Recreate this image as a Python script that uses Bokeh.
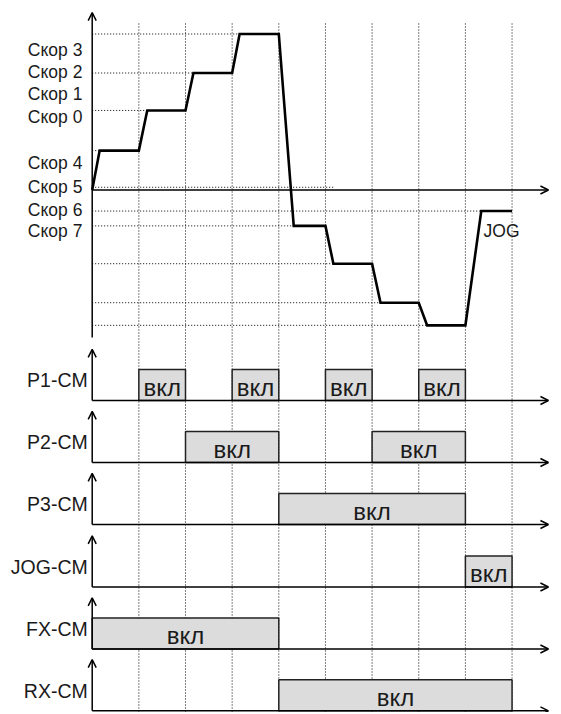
from bokeh.plotting import figure
from bokeh.models import Range1d, Arrow, OpenHead
from bokeh.core.properties import value
from bokeh.embed import file_html
from bokeh.resources import INLINE

# ---------------- data ----------------
t_knots = [0, 0.16, 1, 1.18, 2, 2.17, 3, 3.16, 4, 4.32, 5, 5.17, 6, 6.18, 7, 7.18, 8, 8.34, 9]
speed = [0, 1.01, 1.01, 2.04, 2.04, 3.0, 3.0, 4.0, 4.0, -0.92, -0.92, -1.89, -1.89,
         -2.89, -2.89, -3.47, -3.47, -0.54, -0.54]

level_values = [1.01, 2.04, 3.0, 4.0, 0.07, -0.54, -0.92, -1.89, -2.89, -3.47]
level_ends = [1, 2, 3, 4, 5.17, 9, 5, 6, 7, 8]

speed_labels = ["Скор 3", "Скор 2", "Скор 1", "Скор 0", "Скор 4", "Скор 5", "Скор 6", "Скор 7"]
speed_label_pos = [3.59, 3.02, 2.45, 1.87, 0.69, 0.07, -0.50, -1.04]

grid_times = [1, 2, 3, 4, 5, 6, 7, 8, 9]

signal_names = ["P1-CM", "P2-CM", "P3-CM", "JOG-CM", "FX-CM", "RX-CM"]
on_starts = [[1, 3, 5, 7], [2, 6], [4], [8], [0], [4]]
on_ends = [[2, 4, 6, 8], [4, 8], [8], [9], [4], [9]]
box_text = "вкл"
jog_label = "JOG"
jog_label_t = 8.39
jog_label_v = -1.04

# ---------------- layout ----------------
W, H = 556, 712
X0, DX = 91.7, 46.65          # px of t=0, px per time unit
Y0, DY = 189.5, 39.0          # px of speed 0, px per speed unit
row_base = [400, 462, 524, 586.5, 648.5, 710.3]
ROW_H = 31.0
T_END = 9.78

FONT = "'Liberation Sans', Arial, sans-serif"
TXT = "#1a1a1a"

p = figure(width=W, height=H, output_backend="svg", toolbar_location=None,
           x_range=Range1d(-X0 / DX, (W - X0) / DX),
           y_range=Range1d(-(H - Y0) / DY, Y0 / DY),
           x_axis_location=None, y_axis_location=None,
           min_border=0, min_border_left=0, min_border_right=0,
           min_border_top=0, min_border_bottom=0, title=None)
p.outline_line_color = None
p.grid.visible = False
p.background_fill_color = "white"
p.border_fill_color = "white"

for i in range(len(signal_names)):
    yb = row_base[i]
    p.extra_y_ranges[f"r{i}"] = Range1d(-(H - yb) / ROW_H, yb / ROW_H)

bottom_speed = -(H - Y0) / DY
top_grid = (Y0 - 23) / DY

# vertical dotted grid lines
p.segment(x0=grid_times, y0=[top_grid] * len(grid_times), x1=grid_times,
          y1=[bottom_speed] * len(grid_times), line_color="#000000",
          line_width=1, line_dash="1 2")

# horizontal dotted level lines
p.segment(x0=[0] * len(level_values), y0=level_values, x1=level_ends, y1=level_values,
          line_color="#000000", line_width=1, line_dash="1 2")

# speed axes
p.add_layout(Arrow(end=OpenHead(size=8, line_width=1.5, line_color="black"),
                   x_start=0, y_start=-3.78, x_end=0, y_end=4.55,
                   line_width=1.5, line_color="black"))
p.add_layout(Arrow(end=OpenHead(size=8, line_width=1.5, line_color="black"),
                   x_start=0, y_start=0, x_end=T_END, y_end=0,
                   line_width=1.5, line_color="black"))

# speed profile
p.line(t_knots, speed, line_width=2.6, line_color="black", line_join="miter")

# speed labels
p.text(x=[-0.21] * len(speed_labels), y=speed_label_pos, text=speed_labels,
       text_align="right", text_baseline="middle", text_font=value(FONT),
       text_font_size="17.5px", text_color=TXT)
p.text(x=[jog_label_t], y=[jog_label_v], text=[jog_label], text_align="left",
       text_baseline="middle", text_font=value(FONT), text_font_size="17.5px",
       text_color=TXT)

# signal rows
for i, name in enumerate(signal_names):
    rn = f"r{i}"
    starts, ends = on_starts[i], on_ends[i]
    p.quad(left=starts, right=ends, bottom=[0] * len(starts), top=[1] * len(starts),
           fill_color="#dcdcdc", line_color="#222222", line_width=1.5, y_range_name=rn)
    p.text(x=[(a + b) / 2 for a, b in zip(starts, ends)], y=[0.42] * len(starts),
           text=[box_text] * len(starts), text_align="center", text_baseline="middle",
           text_font=value(FONT), text_font_size="24px", text_color=TXT, y_range_name=rn)
    p.add_layout(Arrow(end=OpenHead(size=8, line_width=1.5, line_color="black"),
                       x_start=0, y_start=0, x_end=0, y_end=1.65,
                       line_width=1.5, line_color="black", y_range_name=rn))
    p.add_layout(Arrow(end=OpenHead(size=8, line_width=1.5, line_color="black"),
                       x_start=0, y_start=0, x_end=T_END, y_end=0,
                       line_width=1.5, line_color="black", y_range_name=rn))
    p.text(x=[-0.095], y=[0.65], text=[name], text_align="right", text_baseline="middle",
           text_font=value(FONT), text_font_size="19.5px", text_color=TXT, y_range_name=rn)

open("out.html", "w").write(file_html(p, INLINE))
